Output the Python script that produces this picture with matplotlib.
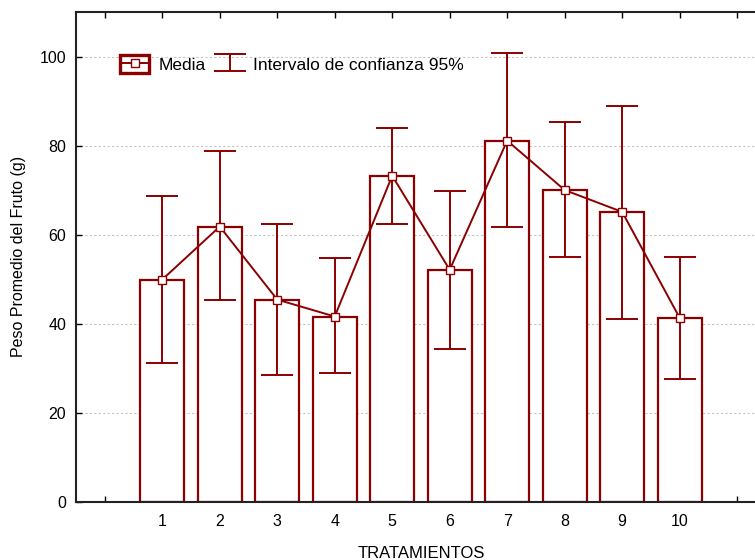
import matplotlib.pyplot as plt
import numpy as np
from matplotlib.patches import Rectangle
from matplotlib.lines import Line2D
from matplotlib.legend_handler import HandlerTuple

plt.rcParams['font.family'] = ['Liberation Sans', 'DejaVu Sans']

# Data
tratamientos = [1, 2, 3, 4, 5, 6, 7, 8, 9, 10]
media = [49.9, 61.8, 45.4, 41.6, 73.2, 52.1, 81.1, 70.0, 65.1, 41.3]
ic_inf = [31.1, 45.2, 28.4, 29.0, 62.4, 34.2, 61.7, 55.0, 41.1, 27.5]
ic_sup = [68.6, 78.7, 62.3, 54.8, 84.0, 69.8, 100.7, 85.2, 88.9, 54.9]
xticks = list(range(0, 12))
xticklabels = [''] + [str(t) for t in tratamientos] + ['']
yticks = [0, 20, 40, 60, 80, 100]

color = '#8b0000'

fig = plt.figure(figsize=(7.55, 5.6), dpi=100)
ax = fig.add_axes([0.1007, 0.1041, 0.9137, 0.8745])

x = np.array(tratamientos)
m = np.array(media)
yerr = [m - np.array(ic_inf), np.array(ic_sup) - m]

# Bars
ax.bar(x, m, width=0.77, facecolor='white', edgecolor=color, linewidth=1.6, zorder=2)

# Confidence intervals
eb = ax.errorbar(x, m, yerr=yerr, fmt='none', ecolor=color, elinewidth=1.4,
                 capsize=11.5, capthick=1.4, zorder=3)

# Mean line with square markers
ax.plot(x, m, color=color, linewidth=1.4, marker='s', markersize=5.5,
        markerfacecolor='white', markeredgecolor=color, markeredgewidth=1.0, zorder=4)

# Axes styling
ax.set_xlim(-0.5, 11.5)
ax.set_ylim(0, 110)
ax.set_xticks(xticks)
ax.set_xticklabels(xticklabels)
ax.set_yticks(yticks)
ax.tick_params(axis='x', direction='in', length=4, width=1, top=True, pad=9, labelsize=11.5)
ax.tick_params(axis='y', direction='in', length=4, width=1, pad=7, labelsize=11.5)
ax.spines['right'].set_visible(False)
for s in ['left', 'bottom', 'top']:
    ax.spines[s].set_linewidth(1.5)
    ax.spines[s].set_color('#222222')

for yv in yticks[1:]:
    ax.axhline(yv, color='#c4c4c4', linewidth=0.8, linestyle=(0, (2, 2)), zorder=1)

ax.set_xlabel('TRATAMIENTOS', fontsize=12, labelpad=12)
ax.set_ylabel('Peso Promedio del Fruto (g)', fontsize=11.5, labelpad=10)

# Legend
media_handle = (Rectangle((0, 0), 1, 1, facecolor='white', edgecolor=color, linewidth=2.4),
                Line2D([], [], color=color, linewidth=1.4, marker='s', markersize=5.5,
                       markerfacecolor='white', markeredgecolor=color))
leg = ax.legend([media_handle, eb], ['Media', 'Intervalo de confianza 95%'],
                handler_map={tuple: HandlerTuple(ndivide=1, pad=0)},
                loc='upper left', bbox_to_anchor=(0.054, 0.926), ncol=2, frameon=False,
                fontsize=12.5, handlelength=1.67, handleheight=1.2, handletextpad=0.52,
                columnspacing=0.57, borderaxespad=0)

fig.savefig('out.png', dpi=100)
plt.close(fig)
